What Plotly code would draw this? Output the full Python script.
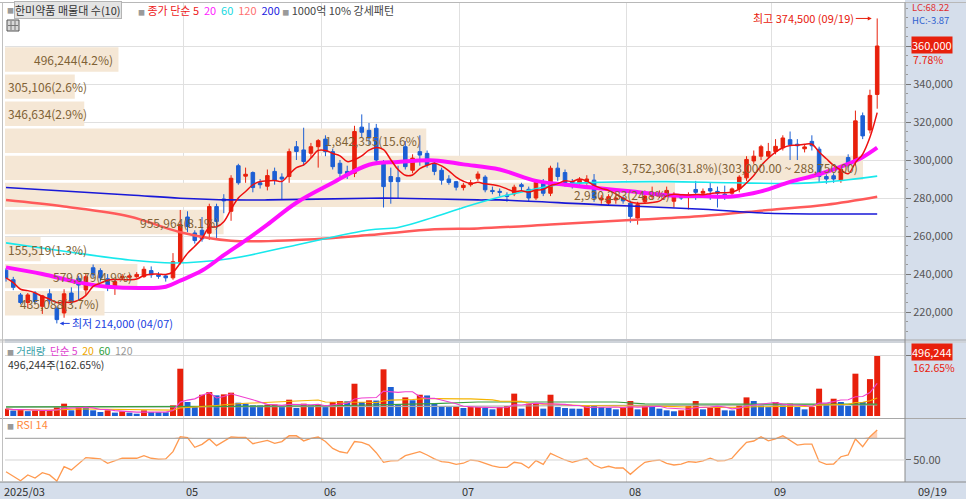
import numpy as np
import pandas as pd
import plotly.graph_objects as go

# ---------------- data ----------------
holidays = ["2025-05-01", "2025-05-05", "2025-05-06", "2025-06-03", "2025-06-06", "2025-08-15"]
dates = [d for d in pd.bdate_range("2025-03-27", "2025-09-19") if d.strftime("%Y-%m-%d") not in holidays]

# prices in thousand won
open_k = [242, 237, 229, 225, 230, 223, 229.6, 222, 219.5, 230,
          237.7, 231.6, 243.3, 241.8, 237.5, 233, 238, 238.3, 238.6, 238.6,
          241.8, 239.5, 239, 238, 246.3, 270, 261.6, 263, 261.5, 275.5,
          279.5, 273, 297, 291.5, 293.4, 288, 286.2, 294, 291, 291.3,
          307, 305.3, 303.6, 307, 311, 304.4, 298.3, 294, 293, 317.3,
          315.6, 316.7, 298.3, 291.3, 290.7, 307, 294.6, 304.4, 303.5, 298.3,
          294.6, 290, 288.6, 285.5, 287, 290.4, 291, 284, 283.5, 281.5,
          282.2, 287, 284.6, 280, 288.3, 282.5, 295.7, 293.4, 288.6, 287.8,
          288, 289.4, 279, 277.3, 279, 280, 277.3, 269.5, 278, 280.9,
          281, 282, 278.3, 281, 280.5, 284.5, 282.5, 285, 283.5, 282,
          282.5, 284.8, 290.6, 299.5, 302, 302, 304.5, 306.4, 310.7, 308.3,
          305.9, 309.8, 305.7, 291.3, 291.7, 289.5, 301.3, 299.5, 323.3, 315.8,
          334.5]
high_k = [243, 238.5, 230, 230, 231, 229, 232, 223, 232, 233,
          239, 240, 245, 243, 240, 237, 240, 240, 241, 244,
          244, 241, 240, 251, 273.7, 273, 263, 270, 277, 277,
          282, 292, 298, 296, 294, 290, 295, 296, 293, 306,
          310, 317, 309, 311, 313, 306, 300, 297, 318, 324,
          319.5, 319, 300, 296, 297, 310, 303, 313, 305, 300,
          296, 292, 289, 288, 289.5, 294, 292, 286, 285, 283,
          287, 288, 286, 290, 290, 297, 298.7, 295, 290, 291,
          292, 292.6, 281.5, 282, 282, 281, 278.5, 278, 284, 286,
          284, 286, 283, 282, 283, 289, 285, 288, 286, 286.5,
          285.5, 292, 302, 305, 308, 309, 311, 313, 315, 311,
          308, 313, 307, 292.5, 293, 296, 303, 326, 325, 337,
          374.5]
low_k = [236, 231.5, 224, 222, 224, 219, 224, 214, 217, 224,
         226, 229, 238, 236, 231, 229, 237, 237.5, 238, 238,
         238, 237.5, 236, 237, 245, 262, 256, 257, 258, 258,
         272, 268, 287, 288, 283, 285, 284, 287, 279, 288,
         300, 297, 301, 296, 302, 295, 291, 290, 291, 312,
         308, 298, 275, 277, 280, 295, 293, 297, 296, 292,
         287, 287, 284, 284, 286, 289, 283, 282, 281, 278,
         281, 284, 278, 279, 281, 281, 289, 286, 285, 287,
         287, 278, 277, 276, 277, 277, 267, 266, 277, 279,
         280, 281, 275, 279, 274, 279, 280, 279, 275, 279,
         280, 283, 289, 298, 300, 301, 303, 305, 300, 300,
         304, 305, 288, 287.5, 288, 288, 296, 297, 311, 314,
         327]
close_k = [238, 233, 225, 229, 225.5, 228.5, 226, 216, 229.6, 225.5,
           234.2, 238.6, 239.6, 238, 233.3, 236, 238.6, 239, 239.8, 242.5,
           239.6, 238.8, 238, 246.5, 266, 265, 257.6, 258.5, 275.5, 267.6,
           278.5, 290.4, 288, 292.5, 285.5, 287, 291.8, 289.3, 290, 304.4,
           304.5, 299.2, 307, 310.2, 304.4, 296.5, 293, 291.8, 315, 314.6,
           311.6, 300, 286, 288.6, 288.6, 296.5, 301, 302.6, 297.4, 294,
           289.4, 288.2, 285.7, 286.7, 288, 292.6, 284.3, 283.4, 283, 280.8,
           285.7, 286, 280, 288.3, 282.5, 295.7, 291.3, 287.8, 286, 289.4,
           290, 280, 280, 280.7, 280, 278.5, 270.3, 276.5, 281, 282,
           282, 284, 280.9, 280, 281.3, 283, 283.5, 283.7, 282.5, 281.3,
           284.8, 291, 300.3, 302, 307, 304.5, 307.2, 311.6, 308, 307.5,
           306.9, 307.5, 291.3, 290, 290, 295, 297.4, 320.6, 312.7, 334,
           360]

# moving averages (index, thousand won)
ma20_idx = [0, 5, 10, 14, 19, 22, 24, 27, 30, 33, 36, 40, 45, 50, 54, 59, 63, 68, 73, 77, 82, 86, 91, 96, 100, 104, 108, 112, 116, 118, 120]
ma20_val = [243.5, 240, 235.6, 233.3, 232.6, 233.3, 236.5, 241.8, 249.9, 257.7, 266, 277.5, 288, 297.5, 299, 299.8, 297.7, 295, 289, 287, 285, 283.5, 281.5, 281, 280.8, 283.5, 288.5, 292.5, 298, 301.5, 306.5]
ma60_idx = [0, 8, 17, 23, 31, 40, 50, 54, 59, 63, 68, 72, 76, 82, 91, 100, 109, 113, 116, 120]
ma60_val = [256.4, 252, 247.4, 245.8, 248.2, 255.3, 263.2, 264.5, 270, 275, 280.5, 284, 287, 288.3, 288.6, 288, 287.7, 288.5, 289.6, 291.5]
ma120_idx = [0, 8, 17, 24, 31, 40, 50, 59, 65, 75, 86, 96, 105, 113, 120]
ma120_val = [278.9, 275.5, 270.3, 262, 257.5, 257.9, 260.5, 263.5, 264, 266, 268.4, 270.5, 273.7, 276.5, 280.7]
ma200_idx = [0, 17, 24, 31, 36, 50, 54, 65, 68, 82, 96, 105, 120]
ma200_val = [285.5, 281.6, 279.9, 279, 279, 279.9, 279.9, 279, 279, 276.4, 274.1, 272, 271.6]

# volume (thousand shares)
volume_k = [60, 45, 55, 40, 45, 46, 47, 74, 102, 47,
            74, 66, 47, 33, 47, 28, 39, 28, 19, 47,
            33, 32, 31, 88, 391, 116, 83, 176, 198, 171,
            179, 193, 110, 102, 88, 87, 94, 95, 74, 135,
            66, 102, 88, 94, 74, 116, 124, 122, 267, 116,
            130, 128, 386, 240, 94, 154, 130, 176, 170, 102,
            83, 74, 76, 66, 74, 75, 66, 55, 74, 83,
            185, 61, 102, 103, 61, 176, 74, 66, 61, 60,
            88, 87, 74, 66, 55, 66, 124, 55, 83, 82,
            61, 47, 39, 47, 83, 124, 55, 66, 80, 47,
            46, 88, 154, 124, 88, 74, 116, 88, 102, 74,
            55, 74, 226, 102, 143, 116, 83, 350, 116, 305.1,
            496.244]
vma60_idx = [0, 22, 30, 45, 59, 65, 84, 88, 100, 120]
vma60_val = [76, 75, 80, 85, 102, 116, 116, 100, 98, 98]
vma120_idx = [0, 22, 60, 86, 120]
vma120_val = [74, 74, 80, 88, 92]

rsi14 = [39.2, 35, 30.9, 36.2, 33.4, 38.3, 36.2, 30.6, 43.9, 40.8,
         46.9, 52.2, 51.6, 51, 46.9, 49.1, 51.6, 51.6, 51.6, 54,
         51.6, 50.7, 51, 57.7, 71.5, 70.6, 61.7, 64.4, 69.4, 63.2,
         67, 71.2, 70.9, 70.9, 65, 66.2, 68.1, 65.3, 67, 72.4,
         72.4, 67.6, 70, 71.2, 67, 60.7, 57.6, 56.4, 67, 66.2,
         63.8, 56.7, 47.9, 49.1, 49.4, 54, 55.8, 57.7, 54.6, 51,
         48.5, 47.9, 46, 47, 50, 49.1, 46.9, 44.5, 43.2, 43.2,
         47.9, 46.9, 42.6, 49.4, 46, 56.1, 53, 50, 47.9, 50,
         51.6, 45.4, 42.6, 44.2, 42.6, 42.6, 36.8, 42.6, 47.9, 49.1,
         50, 46.9, 45.4, 46.2, 48.5, 47.9, 49.1, 51.6, 49.1, 49.4,
         51.6, 59.2, 66.3, 67.5, 71.5, 67.6, 69.4, 72.4, 68.4, 63.8,
         64.7, 64.7, 48.5, 46, 46.3, 53, 54.6, 69.4, 62.3, 71.5,
         77.6]

# volume profile (매물대) : 10 price bins
bin_low = [345750, 331500, 317250, 303000, 288750, 274500, 260250, 246000, 231750, 217500]
bin_vol = [496244, 305106, 346634, 1842355, 3752306, 2930283, 955964, 155519, 579079, 435088]
bin_step = 14250

# ---------------- derived ----------------
K = 1000
n = len(close_k)
idx = list(range(n))
o = np.array(open_k) * K
h = np.array(high_k) * K
l = np.array(low_k) * K
c = np.array(close_k) * K
vol = np.array(volume_k) * K
ma5 = pd.Series(c).rolling(5, min_periods=1).mean()
vma5 = pd.Series(vol).rolling(5, min_periods=1).mean()
vma20 = pd.Series(vol).rolling(20, min_periods=1).mean()
rsi = np.array(rsi14)

RED = "#e8200c"
BLUE = "#1c5fd4"
vol_colors = [RED if i == 0 or vol[i] > vol[i - 1] else BLUE for i in range(n)]

month_starts = [i for i in range(1, n) if dates[i].month != dates[i - 1].month and i >= 10]
grid_x = [i - 0.5 for i in month_starts]

FONT = "Noto Sans CJK KR, Noto Sans, sans-serif"
W, H = 966, 499
L, R, T, B = 5, 61, 3, 17
PW, PH = W - L - R, H - T - B


def px(x):
    return (x - L) / PW


def py(y):
    return (H - B - y) / PH


XR = [-0.14, 123.83]

fig = go.Figure()

# volume profile bars (base subplot, drawn beneath)
bin_mid = [b + bin_step / 2 for b in bin_low]
fig.add_trace(go.Bar(x=bin_vol, y=bin_mid, orientation="h", width=bin_step * 0.9,
                     marker=dict(color="#f5e7d5", line=dict(width=0)),
                     xaxis="x", yaxis="y", hoverinfo="skip"))

# candles
fig.add_trace(go.Candlestick(x=idx, open=o, high=h, low=l, close=c, xaxis="x2", yaxis="y",
                             increasing=dict(line=dict(color=RED, width=1), fillcolor=RED),
                             decreasing=dict(line=dict(color=BLUE, width=1), fillcolor=BLUE),
                             whiskerwidth=0, hoverinfo="skip"))

fig.add_trace(go.Scatter(x=ma120_idx, y=np.array(ma120_val) * K, mode="lines", xaxis="x2", yaxis="y",
                         line=dict(color="#ff5a5a", width=2.5, shape="spline"), hoverinfo="skip"))
fig.add_trace(go.Scatter(x=ma200_idx, y=np.array(ma200_val) * K, mode="lines", xaxis="x2", yaxis="y",
                         line=dict(color="#1818d8", width=1.6, shape="spline"), hoverinfo="skip"))
fig.add_trace(go.Scatter(x=ma60_idx, y=np.array(ma60_val) * K, mode="lines", xaxis="x2", yaxis="y",
                         line=dict(color="#18e8ec", width=1.6, shape="spline"), hoverinfo="skip"))
fig.add_trace(go.Scatter(x=ma20_idx, y=np.array(ma20_val) * K, mode="lines", xaxis="x2", yaxis="y",
                         line=dict(color="#ff10ff", width=4, shape="spline"), hoverinfo="skip"))
fig.add_trace(go.Scatter(x=idx, y=ma5, mode="lines", xaxis="x2", yaxis="y",
                         line=dict(color="#ee1010", width=1.5, shape="spline"), hoverinfo="skip"))

# volume
fig.add_trace(go.Bar(x=idx, y=vol, width=0.82, marker=dict(color=vol_colors, line=dict(width=0)),
                     xaxis="x3", yaxis="y2", hoverinfo="skip"))
fig.add_trace(go.Scatter(x=vma120_idx, y=np.array(vma120_val) * K, mode="lines", xaxis="x3", yaxis="y2",
                         line=dict(color="#a8a8a8", width=1.2), hoverinfo="skip"))
fig.add_trace(go.Scatter(x=vma60_idx, y=np.array(vma60_val) * K, mode="lines", xaxis="x3", yaxis="y2",
                         line=dict(color="#3aa040", width=1.2), hoverinfo="skip"))
fig.add_trace(go.Scatter(x=idx, y=vma20, mode="lines", xaxis="x3", yaxis="y2",
                         line=dict(color="#f5b400", width=1.1), hoverinfo="skip"))
fig.add_trace(go.Scatter(x=idx, y=vma5, mode="lines", xaxis="x3", yaxis="y2",
                         line=dict(color="#f040d0", width=1.1), hoverinfo="skip"))

# RSI
fig.add_trace(go.Scatter(x=idx, y=[70] * n, mode="lines", xaxis="x4", yaxis="y3",
                         line=dict(width=0), hoverinfo="skip"))
fig.add_trace(go.Scatter(x=idx, y=np.maximum(rsi, 70), mode="lines", xaxis="x4", yaxis="y3",
                         line=dict(width=0), fill="tonexty", fillcolor="rgba(255,150,90,0.45)",
                         hoverinfo="skip"))
fig.add_trace(go.Scatter(x=idx, y=rsi, mode="lines", xaxis="x4", yaxis="y3",
                         line=dict(color="#ff9a50", width=1.3), hoverinfo="skip"))

# ---------------- axes ----------------
price_ticks = list(range(220000, 360001, 20000))
price_text = ["" if v == 360000 else f"{v:,}" for v in price_ticks]
idx_axis = dict(range=XR, showticklabels=False, tickvals=grid_x, showgrid=True, gridcolor="#e0e0e0",
                gridwidth=1, zeroline=False, ticks="", rangeslider=dict(visible=False), fixedrange=True)
max_bar_px = 858
fig.update_layout(
    width=W, height=H, margin=dict(l=L, r=R, t=T, b=B),
    paper_bgcolor="#d5deeb", plot_bgcolor="white", showlegend=False,
    font=dict(family=FONT, size=11, color="#444"),
    hovermode=False,
    xaxis=dict(domain=[0, 1], anchor="y", range=[0, max(bin_vol) * PW / max_bar_px], visible=False,
               fixedrange=True),
    xaxis2=dict(overlaying="x", anchor="y", **idx_axis),
    xaxis3=dict(domain=[0, 1], anchor="y2", **idx_axis),
    xaxis4=dict(domain=[0, 1], anchor="y3", **idx_axis),
    yaxis=dict(domain=[py(339), 1], range=[205800, 382630], side="right", tickvals=price_ticks,
               ticktext=price_text, showgrid=True, gridcolor="#e0e0e0", zeroline=False,
               ticks="outside", ticklen=5, tickcolor="#777", tickfont=dict(size=11, color="#555"),
               minor=dict(ticks="outside", ticklen=2, dtick=5000, tickcolor="#999", showgrid=False),
               fixedrange=True, automargin=False),
    yaxis2=dict(domain=[py(418), py(343)], range=[-16500, 603700], side="right", tickvals=[max(vol)],
                showticklabels=False, showgrid=True, gridcolor="#d6d6d6", zeroline=False,
                ticks="outside", ticklen=5, tickcolor="#777", fixedrange=True, automargin=False),
    yaxis3=dict(domain=[0, py(419)], range=[29.7, 87.8], side="right", tickvals=[50], ticktext=["50.00"],
                showgrid=False, zeroline=False, ticks="outside", ticklen=5, tickcolor="#777",
                tickfont=dict(size=11, color="#555"), fixedrange=True, automargin=False),
)

# ---------------- shapes ----------------
shapes = []
full_r = (W - L) / PW
# white left/top margins
shapes.append(dict(type="rect", xref="paper", yref="paper", x0=px(0), x1=0, y0=0, y1=py(0),
                   fillcolor="white", line=dict(width=0), layer="above"))
shapes.append(dict(type="rect", xref="paper", yref="paper", x0=px(0), x1=1, y0=1, y1=py(0),
                   fillcolor="white", line=dict(width=0), layer="above"))
for yy, col in [(2.5, "#b8b8b8"), (340, "#a8a8a8"), (342, "#c8c8c8"), (418.5, "#a8a8a8"), (482, "#8a8a8a")]:
    shapes.append(dict(type="line", xref="paper", yref="paper", x0=px(0), x1=full_r, y0=py(yy), y1=py(yy),
                       line=dict(color=col, width=1)))
shapes.append(dict(type="line", xref="paper", yref="paper", x0=1, x1=1, y0=0, y1=py(2.5),
                   line=dict(color="#8a8a8a", width=1)))
shapes.append(dict(type="line", xref="paper", yref="paper", x0=px(2.5), x1=px(2.5), y0=0, y1=py(2.5),
                   line=dict(color="#c0c0c0", width=1)))
# RSI reference lines
shapes.append(dict(type="line", xref="paper", yref="y3", x0=0, x1=1, y0=70, y1=70,
                   line=dict(color="#9a9a9a", width=1)))
shapes.append(dict(type="line", xref="paper", yref="y3", x0=0, x1=1, y0=50, y1=50,
                   line=dict(color="#d4d4d4", width=1)))
# small grid icon
shapes.append(dict(type="rect", xref="paper", yref="paper", x0=px(7), x1=px(19), y0=py(31), y1=py(20),
                   fillcolor="#d8d8d8", line=dict(color="#555", width=1)))
for k in (11, 15):
    shapes.append(dict(type="line", xref="paper", yref="paper", x0=px(k), x1=px(k), y0=py(30), y1=py(21),
                       line=dict(color="#777", width=1)))
shapes.append(dict(type="line", xref="paper", yref="paper", x0=px(8), x1=px(18), y0=py(25.5), y1=py(25.5),
                   line=dict(color="#777", width=1)))
fig.update_layout(shapes=shapes)

# ---------------- annotations ----------------
ann = []


def text(x, y, s, color="#444", size=11, xanchor="left", **kw):
    d = dict(x=x, y=y, xref="paper", yref="paper", text=s, showarrow=False, xanchor=xanchor,
             yanchor="middle", font=dict(family=FONT, size=size, color=color))
    d.update(kw)
    ann.append(d)


# top legend
text(px(5), py(10), "■", "#9a9a9a", 7)
text(px(14), py(10), "한미약품 매물대 수(10)", "#333", 11, bgcolor="#e4e4e4", bordercolor="#b4b4b4",
     borderwidth=1, borderpad=0)
text(px(136), py(10),
     '<span style="color:#9a9a9a;font-size:7px">■</span> '
     '<span style="color:#ee2020">종가 단순 5</span>  '
     '<span style="color:#ff20ff">20</span>  '
     '<span style="color:#20d8e0">60</span>  '
     '<span style="color:#ff7070">120</span>  '
     '<span style="color:#2020e0">200</span> '
     '<span style="color:#9a9a9a;font-size:7px">■</span> '
     '<span style="color:#444">1000억 10% 강세패턴</span>', size=11)
text(px(910), py(7), "LC:68.22", "#e03030", 9.5)
text(px(910), py(20), "HC:-3.87", "#2f62d0", 9.5)

# current price box
text(px(911), py(45.5), "360,000", "white", 11, bgcolor=RED, borderpad=0)
text(px(911), py(59.5), f"{(c[-1] / c[-2] - 1) * 100:.2f}%", RED, 10.5)

# volume panel texts
text(px(5), py(350.5),
     '<span style="color:#9a9a9a;font-size:7px">■</span> '
     '<span style="color:#3aa0a8">거래량</span>  '
     '<span style="color:#e040d0">단순 5</span>  '
     '<span style="color:#f0a800">20</span>  '
     '<span style="color:#30a040">60</span>  '
     '<span style="color:#999">120</span>', size=10.5)
text(px(6), py(364.5), f"{int(vol[-1]):,}주({vol[-1] / vol[-2] * 100:.2f}%)", "#333", 10.5)
text(px(911), py(352), f"{int(vol[-1]):,}", "white", 11, bgcolor=RED, borderpad=0)
text(px(911), py(367), f"{vol[-1] / vol[-2] * 100:.2f}%", RED, 10.5)

# RSI label
text(px(5), py(424),
     '<span style="color:#9a9a9a;font-size:7px">■</span> <span style="color:#ff8a3d">RSI 14</span>', size=11)

# dates
ann.append(dict(x=XR[0], y=py(491), xref="x2", yref="paper", text=dates[0].strftime("%Y/%m"),
                showarrow=False, xanchor="left", yanchor="middle", xshift=-3,
                font=dict(family=FONT, size=11, color="#333")))
for i in month_starts:
    ann.append(dict(x=i - 0.5, y=py(491), xref="x2", yref="paper", text=dates[i].strftime("%m"),
                    showarrow=False, xanchor="left", yanchor="middle", xshift=0,
                    font=dict(family=FONT, size=11, color="#333")))
text(px(916), py(491), dates[-1].strftime("%m/%d"), "#333", 11)

# high / low markers
hi_i = int(np.argmax(h))
lo_i = int(np.argmin(l))
ann.append(dict(x=hi_i - 0.75, y=h[hi_i], xref="x2", yref="y", showarrow=True, ax=-16, ay=0,
                arrowhead=2, arrowsize=0.8, arrowwidth=1, arrowcolor=RED, xanchor="right", yanchor="middle",
                text=f"최고 {int(h[hi_i]):,} ({dates[hi_i].strftime('%m/%d')})",
                font=dict(family=FONT, size=11, color=RED)))
ann.append(dict(x=lo_i + 0.4, y=l[lo_i], xref="x2", yref="y", showarrow=True, ax=10, ay=0,
                arrowhead=2, arrowsize=0.8, arrowwidth=1, arrowcolor="#2040e0", xanchor="left",
                yanchor="middle", text=f"최저 {int(l[lo_i]):,} ({dates[lo_i].strftime('%m/%d')})",
                font=dict(family=FONT, size=11, color="#2040e0")))

# volume profile labels
total = sum(bin_vol)
vmax = max(bin_vol)
for lo, v in zip(bin_low, bin_vol):
    s = f"{v:,}({v / total * 100:.1f}%)"
    if v == vmax:
        s += f"({lo + bin_step:,}.00 ~ {lo:,}.00)"
    bar_px = v / vmax * max_bar_px
    fits = bar_px > len(s) * 6.4 + 4
    ann.append(dict(x=v if fits else 0, y=lo + bin_step / 2, xref="x", yref="y", text=s, showarrow=False,
                    xanchor="right" if fits else "left", yanchor="middle", xshift=-3 if fits else 1,
                    font=dict(family=FONT, size=12, color="#806236")))

fig.update_layout(annotations=ann)
fig.write_html("out.html", config={"displayModeBar": False},
               post_script="document.body.style.margin='0px';document.body.style.overflow='hidden';")
